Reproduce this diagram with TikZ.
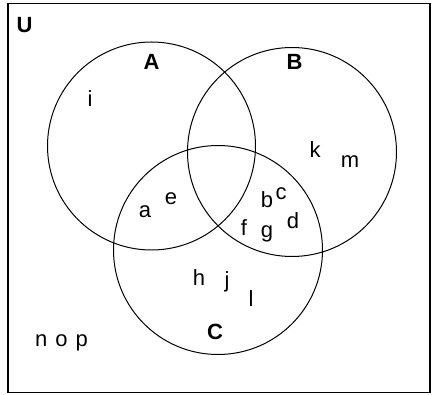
\documentclass[tikz,border=0pt]{standalone}
\usepackage{fontspec}
\setmainfont{Liberation Sans}
\usepackage{tikz}

\begin{document}
\begin{tikzpicture}[x=1pt,y=-1pt,
  setlabel/.style={font=\fontsize{22}{22}\selectfont\bfseries,inner sep=0pt},
  elem/.style={font=\fontsize{22}{22}\selectfont,inner sep=0pt}]
% universe U with three overlapping sets A, B, C (pixel coordinates, y down)
\useasboundingbox (0,0) rectangle (432,395);
\draw[line width=1.6pt] (8,3.5) rectangle (430,392.5);
\draw[line width=1pt] (151.5,146) circle (104);
\draw[line width=1pt] (292,152) circle (104.5);
\draw[line width=1pt] (218,250) circle (104.5);
% set names
\node[setlabel] (U) at (24.5,25.5) {U};
\node[setlabel] (A) at (151.5,62) {A};
\node[setlabel] (B) at (294.5,62) {B};
\node[setlabel] (C) at (215,332) {C};
% elements
\foreach \el/\ex/\ey in {i/90/99, k/315/150, m/350/162, a/145/212, e/171/199,
  b/267/200, c/281/194, d/293/221, f/244/228, g/267/234, h/199/278,
  j/227/282, l/251/299}
  \node[elem] (\el) at (\ex,\ey) {\el};
\node[elem] (nop) at (61.5,343) {\spaceskip=8pt n o p};
\end{tikzpicture}
\end{document}
